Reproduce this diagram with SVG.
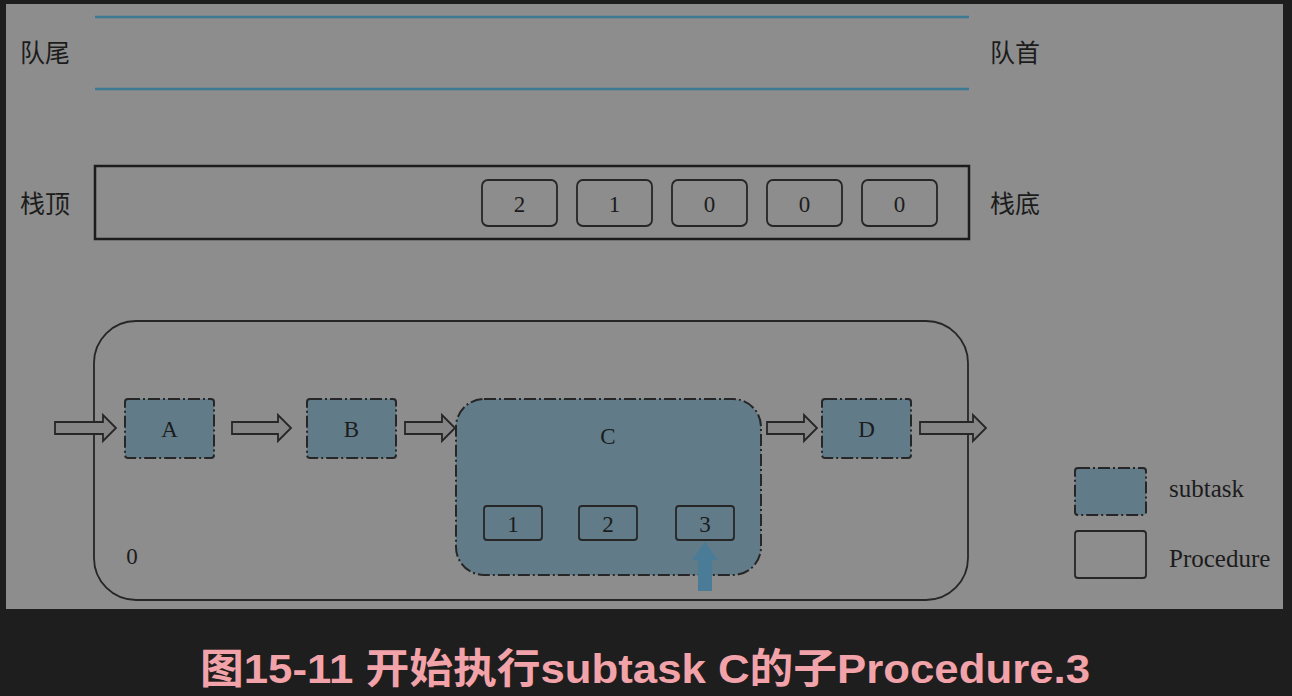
<svg xmlns="http://www.w3.org/2000/svg" width="1292" height="696" viewBox="0 0 1292 696">
<defs>
<style>
.lbl{font-family:"Liberation Serif","Noto Sans CJK SC",serif;font-size:25px;fill:#1c1c1c}
.cjk{font-family:"Noto Sans CJK SC",serif;font-size:25px;fill:#1c1c1c}
.txt{font-family:"Liberation Serif","Noto Sans CJK SC",serif;font-size:23px;fill:#1c1c1c;text-anchor:middle}
.sub{fill:#617b89;stroke:#262626;stroke-width:2;stroke-dasharray:12 3 2 3}
.box{fill:none;stroke:#262626;stroke-width:1.8}
.harrow{fill:#858585;stroke:#262626;stroke-width:1.8;stroke-linejoin:miter}
.qline{stroke:#3b7a92;stroke-width:2.5}
</style>
</defs>
<rect x="0" y="0" width="1292" height="696" fill="#1e1e1e"/>
<rect x="6" y="4" width="1277" height="605" fill="#8d8d8d"/>

<g id="queue">
<line class="qline" x1="95" y1="17" x2="969" y2="17"/>
<line class="qline" x1="95" y1="89" x2="969" y2="89"/>
<text class="cjk" x="20" y="62">队尾</text>
<text class="cjk" x="990" y="62">队首</text>
</g>

<g id="stack">
<rect x="95" y="166" width="874" height="73" fill="none" stroke="#1c1c1c" stroke-width="2.5"/>
<text class="cjk" x="20" y="213">栈顶</text>
<text class="cjk" x="990" y="213">栈底</text>
<g id="s1"><rect class="box" x="482" y="180" width="75" height="46" rx="6"/><text class="txt" x="519.5" y="212">2</text></g>
<g id="s2"><rect class="box" x="577" y="180" width="75" height="46" rx="6"/><text class="txt" x="614.5" y="212">1</text></g>
<g id="s3"><rect class="box" x="672" y="180" width="75" height="46" rx="6"/><text class="txt" x="709.5" y="212">0</text></g>
<g id="s4"><rect class="box" x="767" y="180" width="75" height="46" rx="6"/><text class="txt" x="804.5" y="212">0</text></g>
<g id="s5"><rect class="box" x="862" y="180" width="75" height="46" rx="6"/><text class="txt" x="899.5" y="212">0</text></g>
</g>

<g id="procedure">
<rect x="94" y="321" width="874" height="279" rx="42" fill="none" stroke="#262626" stroke-width="1.8"/>
<text class="txt" x="132" y="564">0</text>
</g>

<g id="A"><rect class="sub" x="125" y="399" width="89" height="59" rx="3"/><text class="txt" x="169.5" y="437">A</text></g>
<g id="B"><rect class="sub" x="307" y="399" width="89" height="59" rx="3"/><text class="txt" x="351.5" y="437">B</text></g>
<g id="C">
<rect class="sub" x="456" y="399" width="305" height="176" rx="28"/>
<text class="txt" x="608" y="444">C</text>
<g id="c1"><rect class="box" x="484" y="506" width="58" height="34" rx="3"/><text class="txt" x="513" y="532">1</text></g>
<g id="c2"><rect class="box" x="579" y="506" width="58" height="34" rx="3"/><text class="txt" x="608" y="532">2</text></g>
<g id="c3"><rect class="box" x="676" y="506" width="58" height="34" rx="3"/><text class="txt" x="705" y="532">3</text></g>
</g>
<g id="D"><rect class="sub" x="822" y="399" width="89" height="59" rx="3"/><text class="txt" x="866.5" y="437">D</text></g>

<g id="connectors">
<path class="harrow" d="M55,422 H103 V415 L116,428 L103,441 V434 H55 Z"/>
<path class="harrow" d="M232,422 H278 V415 L291,428 L278,441 V434 H232 Z"/>
<path class="harrow" d="M405,422 H442 V415 L455,428 L442,441 V434 H405 Z"/>
<path class="harrow" d="M767,422 H804 V415 L817,428 L804,441 V434 H767 Z"/>
<path class="harrow" d="M920,422 H973 V415 L986,428 L973,441 V434 H920 Z"/>
<path d="M698,591 V560 H692 L705,542 L718,560 H712 V591 Z" fill="#4a7c97"/>
</g>

<g id="legend">
<rect class="sub" x="1075" y="468" width="71" height="47" rx="3"/>
<text class="lbl" x="1169" y="497">subtask</text>
<rect class="box" x="1075" y="531" width="71" height="47" rx="3"/>
<text class="lbl" x="1169" y="567">Procedure</text>
</g>

<text x="200" y="683" textLength="890" lengthAdjust="spacingAndGlyphs" font-family="'Liberation Sans','Noto Sans CJK SC',sans-serif" font-size="41" font-weight="bold" fill="#f2a3a9">图15-11 开始执行subtask C的子Procedure.3</text>
</svg>
